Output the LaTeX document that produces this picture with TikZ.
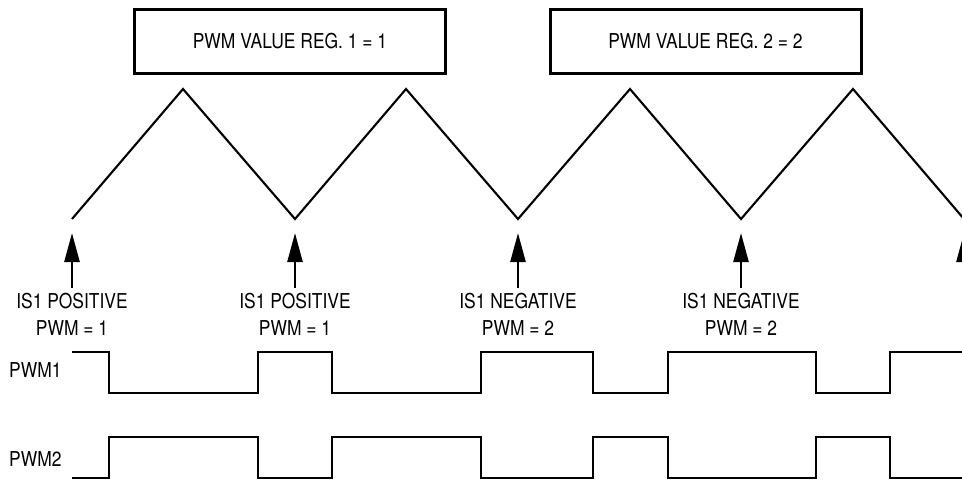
\documentclass[tikz,border=0pt]{standalone}
\usepackage{fontspec}
\setmainfont[FakeStretch=0.85]{TeX Gyre Heros}
\usetikzlibrary{arrows.meta}
\tikzset{
  regbox/.style={draw, line width=3pt, minimum width=311pt, minimum height=64pt, inner sep=0pt},
  txt/.style={inner sep=0pt, align=center, font=\fontsize{20.5}{27}\selectfont},
  wave/.style={line width=2.5pt},
  tri/.style={line width=2.1pt},
  uparrow/.style={line width=2.5pt, -{Triangle[length=29pt,width=15pt]}}
}
\begin{document}
\begin{tikzpicture}[x=1pt,y=-1pt]
\useasboundingbox (0,0) rectangle (962,483);
\clip (0,0) rectangle (962,483);
% register boxes
\node[regbox, txt] (box1) at (290,41.5) {PWM VALUE REG. 1 = 1};
\node[regbox, txt] (box2) at (705.5,41.5) {PWM VALUE REG. 2 = 2};
% triangle carrier
\draw[tri] (72,219) -- (183,89) -- (295,219) -- (406,89) -- (518,219)
  -- (630,89) -- (741,219) -- (853,89) -- (964,219);
% labels
\node[txt] (l1) at (72,314) {IS1 POSITIVE\\PWM = 1};
\node[txt] (l2) at (295,314) {IS1 POSITIVE\\PWM = 1};
\node[txt] (l3) at (518,314) {IS1 NEGATIVE\\PWM = 2};
\node[txt] (l4) at (741,314) {IS1 NEGATIVE\\PWM = 2};
% arrows
\foreach \i/\x in {1/72,2/295,3/518,4/741,5/964}{
  \coordinate (s\i) at (\x,288);
  \coordinate (t\i) at (\x,233);
  \draw[uparrow] (s\i) -- (t\i);
}
% PWM labels
\node[txt, anchor=west] (p1) at (9,370) {PWM1};
\node[txt, anchor=west] (p2) at (9,459) {PWM2};
% waveforms
\draw[wave] (72,352) -- (109,352) -- (109,393) -- (258,393) -- (258,352) -- (332,352)
  -- (332,393) -- (481,393) -- (481,352) -- (593,352) -- (593,393) -- (668,393)
  -- (668,352) -- (816,352) -- (816,393) -- (890,393) -- (890,352) -- (964,352);
\draw[wave] (72,478) -- (109,478) -- (109,437) -- (258,437) -- (258,478) -- (332,478)
  -- (332,437) -- (481,437) -- (481,478) -- (593,478) -- (593,437) -- (668,437)
  -- (668,478) -- (816,478) -- (816,437) -- (890,437) -- (890,478) -- (964,478);
\end{tikzpicture}
\end{document}
